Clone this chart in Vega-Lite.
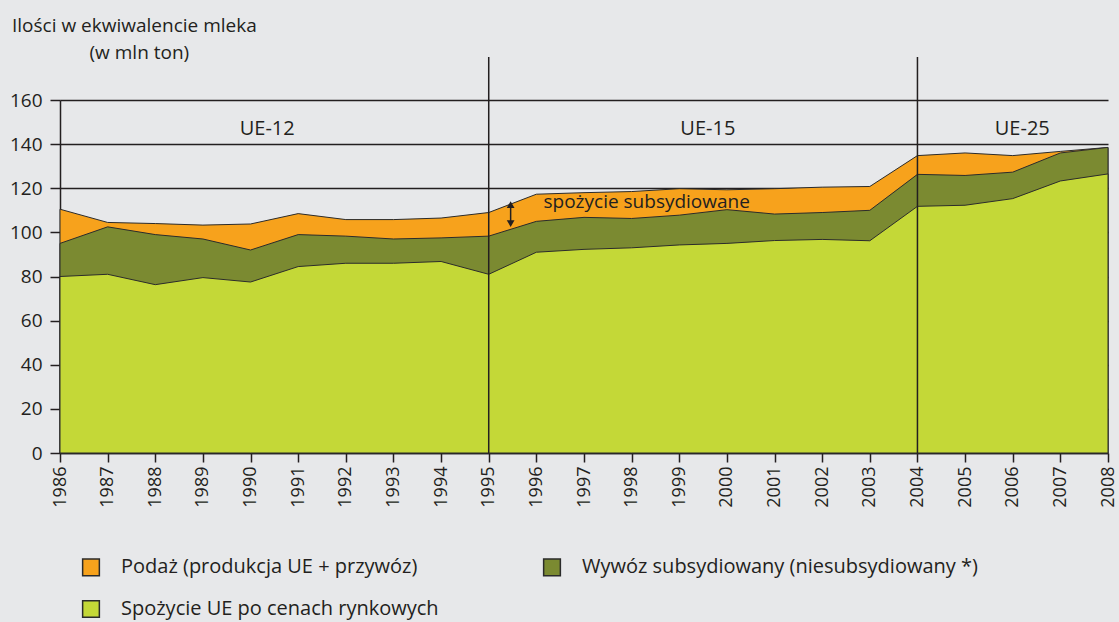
{
  "$schema": "https://vega.github.io/schema/vega-lite/v6.json",
  "width": 1048,
  "height": 353,
  "autosize": {"type": "none"},
  "padding": {"left": 60, "top": 100, "right": 11, "bottom": 169},
  "background": "#e7e8ea",
  "title": {
    "text": "Ilości w ekwiwalencie mleka",
    "anchor": "start",
    "frame": "group",
    "dx": -48,
    "offset": 7,
    "fontSize": 19,
    "fontWeight": "normal",
    "font": "Open Sans",
    "color": "#231f20"
  },
  "config": {
    "view": {"stroke": null},
    "font": "Open Sans",
    "axis": {
      "labelColor": "#231f20",
      "labelFont": "Open Sans",
      "domainColor": "#231f20",
      "tickColor": "#231f20",
      "domainWidth": 1.5,
      "tickWidth": 1.5,
      "titleColor": "#231f20",
      "titleFont": "Open Sans"
    }
  },
  "datasets": {
    "milk": [
      {"year": 1986, "podaz": 110.5, "wywoz": 95.0, "spozycie": 80.0},
      {"year": 1987, "podaz": 104.5, "wywoz": 102.5, "spozycie": 81.0},
      {"year": 1988, "podaz": 104.0, "wywoz": 99.0, "spozycie": 76.3},
      {"year": 1989, "podaz": 103.3, "wywoz": 97.0, "spozycie": 79.5},
      {"year": 1990, "podaz": 103.8, "wywoz": 92.0, "spozycie": 77.5},
      {"year": 1991, "podaz": 108.5, "wywoz": 99.0, "spozycie": 84.5},
      {"year": 1992, "podaz": 105.8, "wywoz": 98.3, "spozycie": 86.0},
      {"year": 1993, "podaz": 105.8, "wywoz": 97.0, "spozycie": 86.0},
      {"year": 1994, "podaz": 106.5, "wywoz": 97.5, "spozycie": 86.8},
      {"year": 1995, "podaz": 109.0, "wywoz": 98.3, "spozycie": 81.0},
      {"year": 1996, "podaz": 117.3, "wywoz": 105.0, "spozycie": 91.0},
      {"year": 1997, "podaz": 118.0, "wywoz": 106.8, "spozycie": 92.3},
      {"year": 1998, "podaz": 118.5, "wywoz": 106.3, "spozycie": 93.0},
      {"year": 1999, "podaz": 119.8, "wywoz": 107.8, "spozycie": 94.3},
      {"year": 2000, "podaz": 119.3, "wywoz": 110.3, "spozycie": 95.0},
      {"year": 2001, "podaz": 119.8, "wywoz": 108.3, "spozycie": 96.3},
      {"year": 2002, "podaz": 120.5, "wywoz": 109.0, "spozycie": 96.8},
      {"year": 2003, "podaz": 120.8, "wywoz": 110.0, "spozycie": 96.2},
      {"year": 2004, "podaz": 134.8, "wywoz": 126.3, "spozycie": 111.8},
      {"year": 2005, "podaz": 136.0, "wywoz": 125.8, "spozycie": 112.3},
      {"year": 2006, "podaz": 134.8, "wywoz": 127.3, "spozycie": 115.3},
      {"year": 2007, "podaz": 136.7, "wywoz": 136.0, "spozycie": 123.3},
      {"year": 2008, "podaz": 138.5, "wywoz": 138.5, "spozycie": 126.5}
    ],
    "eras": [
      {"year": 1995, "lo": 0, "hi": 179.5},
      {"year": 2004, "lo": 0, "hi": 179.5}
    ],
    "eraLabels": [
      {"year": 1990.35, "v": 147, "label": "UE-12"},
      {"year": 1999.6, "v": 147, "label": "UE-15"},
      {"year": 2006.2, "v": 147, "label": "UE-25"}
    ],
    "note": [
      {"year": 1996.15, "v": 113.6, "label": "spożycie subsydiowane"}
    ],
    "arrow": [
      {"year": 1995.46, "bottom": 104.0, "top": 112.6}
    ]
  },
  "layer": [
    {
      "data": {"name": "milk"},
      "mark": {"type": "area", "stroke": "#2b2b2b", "strokeWidth": 1, "opacity": 1},
      "encoding": {
        "x": {
          "field": "year",
          "type": "quantitative",
          "scale": {"domain": [1986, 2008], "nice": false, "zero": false},
          "axis": {
            "values": [1986, 1987, 1988, 1989, 1990, 1991, 1992, 1993, 1994, 1995, 1996, 1997, 1998, 1999, 2000, 2001, 2002, 2003, 2004, 2005, 2006, 2007, 2008],
            "format": "d",
            "labelAngle": 270,
            "labelAlign": "right",
            "labelBaseline": "middle",
            "labelFontSize": 18,
            "labelPadding": 4,
            "tickSize": 9,
            "grid": false,
            "title": null,
            "labelOverlap": false
          }
        },
        "y": {
          "field": "podaz",
          "type": "quantitative",
          "scale": {"domain": [0, 160], "nice": false},
          "axis": {
            "values": [0, 20, 40, 60, 80, 100, 120, 140, 160],
            "grid": true,
            "gridColor": "#231f20",
            "gridWidth": 1.5,
            "tickSize": 10,
            "labelPadding": 8,
            "labelFontSize": 19,
            "title": "(w mln ton)",
            "titleAngle": 0,
            "titleAlign": "left",
            "titleBaseline": "middle",
            "titleX": 29,
            "titleY": -48,
            "titleFontSize": 19,
            "titleFontWeight": "normal"
          }
        },
        "y2": {"datum": 0},
        "color": {
          "datum": "Podaż (produkcja UE + przywóz)",
          "scale": {
            "domain": ["Podaż (produkcja UE + przywóz)", "Wywóz subsydiowany (niesubsydiowany *)", "Spożycie UE po cenach rynkowych"],
            "range": ["#f7a21c", "#7b8a31", "#c4d837"]
          },
          "legend": {
            "title": null,
            "orient": "none",
            "direction": "horizontal",
            "legendX": 21,
            "legendY": 457,
            "columns": 2,
            "symbolType": "square",
            "symbolSize": 280,
            "symbolStrokeColor": "#2b2b2b",
            "symbolStrokeWidth": 1.5,
            "symbolOpacity": 1,
            "labelFontSize": 20,
            "labelFont": "Open Sans",
            "labelColor": "#231f20",
            "labelOffset": 20,
            "columnPadding": 101,
            "rowPadding": 18,
            "labelLimit": 600
          }
        }
      }
    },
    {
      "data": {"name": "milk"},
      "mark": {"type": "area", "stroke": "#2b2b2b", "strokeWidth": 1, "opacity": 1},
      "encoding": {
        "x": {"field": "year", "type": "quantitative"},
        "y": {"field": "wywoz", "type": "quantitative"},
        "y2": {"datum": 0},
        "color": {"datum": "Wywóz subsydiowany (niesubsydiowany *)"}
      }
    },
    {
      "data": {"name": "milk"},
      "mark": {"type": "area", "stroke": "#2b2b2b", "strokeWidth": 1, "opacity": 1},
      "encoding": {
        "x": {"field": "year", "type": "quantitative"},
        "y": {"field": "spozycie", "type": "quantitative"},
        "y2": {"datum": 0},
        "color": {"datum": "Spożycie UE po cenach rynkowych"}
      }
    },
    {
      "data": {"name": "eras"},
      "mark": {"type": "rule", "color": "#231f20", "strokeWidth": 1.5},
      "encoding": {
        "x": {"field": "year", "type": "quantitative"},
        "y": {"field": "lo", "type": "quantitative"},
        "y2": {"field": "hi"}
      }
    },
    {
      "data": {"name": "eraLabels"},
      "mark": {"type": "text", "fontSize": 20, "font": "Open Sans", "color": "#231f20", "align": "center", "baseline": "middle"},
      "encoding": {
        "x": {"field": "year", "type": "quantitative"},
        "y": {"field": "v", "type": "quantitative"},
        "text": {"field": "label"}
      }
    },
    {
      "data": {"name": "note"},
      "mark": {"type": "text", "fontSize": 19, "font": "Open Sans", "color": "#231f20", "align": "left", "baseline": "middle"},
      "encoding": {
        "x": {"field": "year", "type": "quantitative"},
        "y": {"field": "v", "type": "quantitative"},
        "text": {"field": "label"}
      }
    },
    {
      "data": {"name": "arrow"},
      "mark": {"type": "rule", "color": "#231f20", "strokeWidth": 1.5},
      "encoding": {
        "x": {"field": "year", "type": "quantitative"},
        "y": {"field": "bottom", "type": "quantitative"},
        "y2": {"field": "top"}
      }
    },
    {
      "data": {"name": "arrow"},
      "mark": {"type": "point", "shape": "triangle-up", "filled": true, "color": "#231f20", "size": 60, "opacity": 1},
      "encoding": {
        "x": {"field": "year", "type": "quantitative"},
        "y": {"field": "top", "type": "quantitative"}
      }
    },
    {
      "data": {"name": "arrow"},
      "mark": {"type": "point", "shape": "triangle-down", "filled": true, "color": "#231f20", "size": 60, "opacity": 1},
      "encoding": {
        "x": {"field": "year", "type": "quantitative"},
        "y": {"field": "bottom", "type": "quantitative"}
      }
    }
  ]
}
